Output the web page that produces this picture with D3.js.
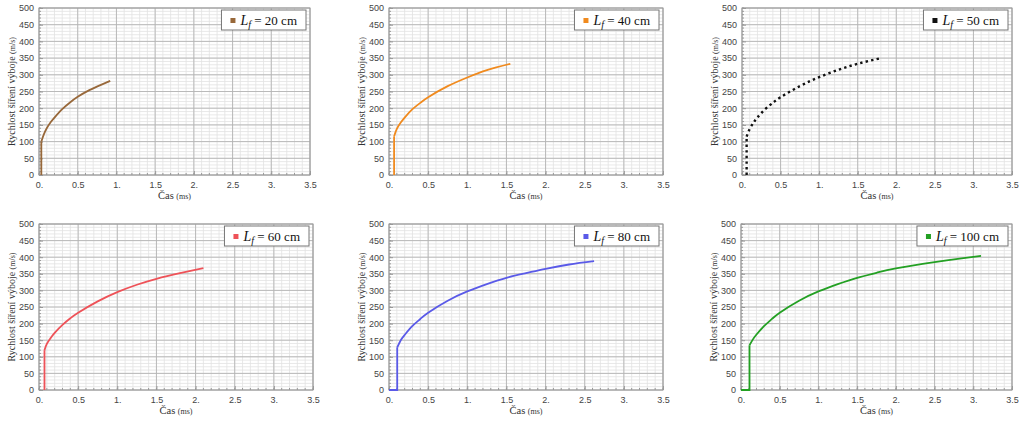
<!DOCTYPE html>
<html>
<head>
<meta charset="utf-8">
<script src="https://cdn.jsdelivr.net/npm/d3@7"></script>
<style>
  body { margin: 0; background: #fff; }
  svg { display: block; font-family: "Liberation Serif", "DejaVu Serif", serif; }
  .tick text { fill: #444; font-size: 9px; }
</style>
</head>
<body>
<svg width="1024" height="424"></svg>
<script>
// series labels (L_f in cm)
const lengths = [20, 40, 50, 60, 80, 100];

// start of each run: time where the discharge starts and the jump speed
const startTimes = [0.03, 0.065, 0.06, 0.07, 0.105, 0.11];
const startSpeeds = [100, 115, 115, 120, 128, 135];
const baseFromZero = [false, false, false, false, true, true];

// curve parts (time ms, speed m/s)
const t20 = [0.03, 0.06, 0.1, 0.15, 0.2, 0.3, 0.4, 0.5, 0.65, 0.8, 0.92];
const v20 = [100, 120, 140, 158, 172, 197, 217, 234, 254, 270, 282];
const t40 = [0.065, 0.1, 0.15, 0.2, 0.3, 0.4, 0.5, 0.75, 1.0, 1.25, 1.55];
const v40 = [115, 138, 157, 172, 197, 216, 233, 266, 292, 314, 333];
const t50 = [0.06, 0.1, 0.15, 0.2, 0.3, 0.4, 0.5, 0.75, 1.0, 1.25, 1.5, 1.8];
const v50 = [115, 138, 157, 172, 197, 216, 233, 266, 293, 315, 333, 350];
const t60 = [0.07, 0.1, 0.15, 0.2, 0.3, 0.4, 0.5, 0.75, 1.0, 1.25, 1.5, 1.8, 2.1];
const v60 = [120, 139, 157, 172, 196, 216, 233, 267, 295, 317, 335, 352, 367];
const t80 = [0.105, 0.15, 0.2, 0.3, 0.4, 0.5, 0.75, 1.0, 1.25, 1.5, 1.75, 2.0, 2.3, 2.62];
const v80 = [128, 150, 166, 193, 214, 233, 269, 297, 319, 338, 352, 365, 378, 388];
const t100 = [0.11, 0.15, 0.2, 0.3, 0.4, 0.5, 0.75, 1.0, 1.25, 1.5, 1.75, 2.0, 2.5, 2.8, 3.1];
const v100 = [135, 151, 167, 193, 214, 233, 269, 297, 319, 338, 353, 366, 385, 395, 404];
const curveTimes = [t20, t40, t50, t60, t80, t100];
const curveSpeeds = [v20, v40, v50, v60, v80, v100];

// axes
const xTicks = [0, 0.5, 1, 1.5, 2, 2.5, 3, 3.5];
const xTickLabels = ['0.', '0.5', '1.', '1.5', '2.', '2.5', '3.', '3.5'];
const yTicks = [0, 50, 100, 150, 200, 250, 300, 350, 400, 450, 500];

const colors = ['#98683a', '#f08a1e', '#111111', '#ee5258', '#5a5ae8', '#23a023'];

// panel frames: [left, right, top, bottom]
const frames = [
  [39, 310, 8, 175], [389, 663, 8, 175], [742, 1012, 8, 175],
  [39, 313, 224, 390], [389, 663, 224, 390], [741, 1012, 224, 390]
];

const svg = d3.select('svg');

frames.forEach((f, i) => {
  const [l, r, t, b] = f;
  const x = d3.scaleLinear().domain([0, 3.5]).range([l, r]);
  const y = d3.scaleLinear().domain([0, 500]).range([b, t]);
  const g = svg.append('g');

  // minor grid
  g.append('g').selectAll('line').data(d3.range(0, 3.5001, 0.1)).join('line')
    .attr('x1', d => x(d)).attr('x2', d => x(d)).attr('y1', t).attr('y2', b)
    .attr('stroke', '#e2e2e2').attr('stroke-width', 0.8);
  g.append('g').selectAll('line').data(d3.range(0, 501, 10)).join('line')
    .attr('y1', d => y(d)).attr('y2', d => y(d)).attr('x1', l).attr('x2', r)
    .attr('stroke', '#e2e2e2').attr('stroke-width', 0.8);
  // major grid
  g.append('g').selectAll('line').data(xTicks).join('line')
    .attr('x1', d => x(d)).attr('x2', d => x(d)).attr('y1', t).attr('y2', b)
    .attr('stroke', '#b4b4b4').attr('stroke-width', 0.9);
  g.append('g').selectAll('line').data(yTicks).join('line')
    .attr('y1', d => y(d)).attr('y2', d => y(d)).attr('x1', l).attr('x2', r)
    .attr('stroke', '#b4b4b4').attr('stroke-width', 0.9);

  // axes with inward ticks
  const xAxis = g.append('g').attr('transform', `translate(0,${b})`)
    .call(d3.axisBottom(x).tickValues(xTicks).tickFormat((d, k) => xTickLabels[k])
      .tickSizeInner(-4).tickSizeOuter(0).tickPadding(7));
  const yAxis = g.append('g').attr('transform', `translate(${l},0)`)
    .call(d3.axisLeft(y).tickValues(yTicks).tickSizeInner(-4).tickSizeOuter(0).tickPadding(5));
  [xAxis, yAxis].forEach(a => {
    a.select('.domain').remove();
    a.selectAll('.tick line').attr('stroke', '#999');
  });
  // minor ticks
  g.append('g').selectAll('line').data(d3.range(0, 3.5001, 0.1)).join('line')
    .attr('x1', d => x(d)).attr('x2', d => x(d)).attr('y1', b).attr('y2', b - 2)
    .attr('stroke', '#999');
  g.append('g').selectAll('line').data(d3.range(0, 501, 10)).join('line')
    .attr('y1', d => y(d)).attr('y2', d => y(d)).attr('x1', l).attr('x2', l + 2)
    .attr('stroke', '#999');

  // frame
  g.append('rect').attr('x', l).attr('y', t).attr('width', r - l).attr('height', b - t)
    .attr('fill', 'none').attr('stroke', '#9a9a9a').attr('stroke-width', 1);

  // axis titles
  const xl = g.append('text').attr('x', (l + r) / 2).attr('y', b + 24)
    .attr('text-anchor', 'middle').attr('fill', '#333').attr('font-size', 10.5);
  xl.append('tspan').text('Čas ');
  xl.append('tspan').attr('font-size', 8).text('(ms)');

  const yl = g.append('text')
    .attr('transform', `translate(${l - 24},${(t + b) / 2}) rotate(-90)`)
    .attr('text-anchor', 'middle').attr('fill', '#333').attr('font-size', 10);
  yl.append('tspan').text('Rychlost šíření výboje ');
  yl.append('tspan').attr('font-size', 8).text('(m/s)');

  // series
  const line = d3.line().x(d => x(d[0])).y(d => y(d[1]));
  const base = [];
  if (baseFromZero[i]) base.push([0, 0]);
  base.push([startTimes[i], 0], [startTimes[i], startSpeeds[i]]);
  const pts = curveTimes[i].map((tt, k) => [tt, curveSpeeds[i][k]]);
  const dotted = i === 2;
  [[base, d3.curveLinear], [pts, d3.curveNatural]].forEach(([data, c]) => {
    g.append('path').datum(data)
      .attr('d', line.curve(c))
      .attr('fill', 'none')
      .attr('stroke', colors[i])
      .attr('stroke-width', dotted ? 2.4 : 1.8)
      .attr('stroke-dasharray', dotted ? '2.4,3.2' : null);
  });

  // legend
  const lg = g.append('g');
  const txt = lg.append('text').attr('y', t + 17).attr('font-size', 13).attr('fill', '#111');
  txt.append('tspan').attr('font-style', 'italic').attr('font-size', 14).text('L');
  txt.append('tspan').attr('font-style', 'italic').attr('font-size', 10).attr('dy', 3).text('f');
  txt.append('tspan').attr('dy', -3).text(` = ${lengths[i]} cm`);
  const tw = txt.node().getComputedTextLength();
  const bw = tw + 28;
  const bx = r - 4 - bw;
  lg.insert('rect', 'text').attr('x', bx).attr('y', t + 2).attr('width', bw).attr('height', 20)
    .attr('fill', '#fff').attr('stroke', '#777').attr('stroke-width', 1);
  lg.append('rect').attr('x', bx + 9).attr('y', t + 10).attr('width', 5).attr('height', 5)
    .attr('fill', colors[i]);
  txt.attr('x', bx + 19);
});
</script>
</body>
</html>
